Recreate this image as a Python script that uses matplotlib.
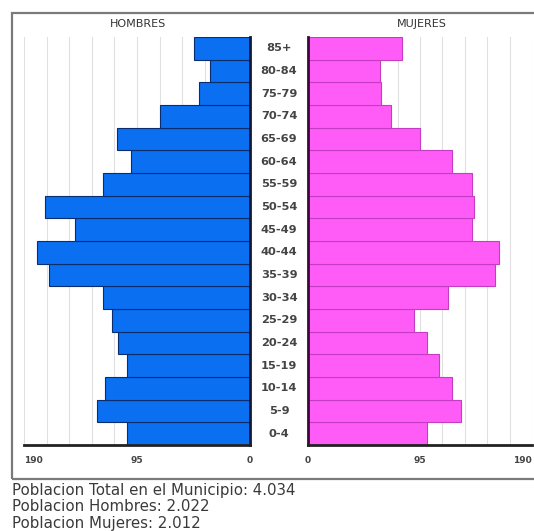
import matplotlib
matplotlib.use("Agg")
import matplotlib.pyplot as plt
from matplotlib.patches import Rectangle
import numpy as np

ages = ["0-4", "5-9", "10-14", "15-19", "20-24", "25-29", "30-34", "35-39", "40-44",
        "45-49", "50-54", "55-59", "60-64", "65-69", "70-74", "75-79", "80-84", "85+"]
hombres = [103, 129, 122, 103, 111, 116, 124, 169, 179, 147, 172, 124, 100, 112, 76, 43, 34, 47]
mujeres = [101, 130, 122, 111, 101, 90, 119, 159, 162, 139, 141, 139, 122, 95, 70, 62, 61, 80]
xticks = [0, 95, 190]
footer = ["Poblacion Total en el Municipio: 4.034",
          "Poblacion Hombres: 2.022",
          "Poblacion Mujeres: 2.012"]

W, H = 534, 531
fig = plt.figure(figsize=(W / 100, H / 100), dpi=100)
fig.patch.set_facecolor("white")

def fx(px):
    return px / W

def fy(py):
    return 1 - py / H

# outer frame
fig.patches.append(Rectangle((fx(12), fy(479)), 1.2, fy(13) - fy(479), transform=fig.transFigure,
                             fill=False, edgecolor="#7a7a7a", linewidth=1.6))

top, bot = 37, 445
axL = fig.add_axes([fx(24), fy(bot), fx(250) - fx(24), fy(top) - fy(bot)])
axR = fig.add_axes([fx(308), fy(bot), fx(532) - fx(308), fy(top) - fy(bot)])

y = np.arange(len(ages))
grid = np.arange(19, 191, 19)

for ax, vals, col, ec in [(axL, hombres, "#0b6ff2", "#0a2d6e"),
                          (axR, mujeres, "#ff5cf7", "#c43cc4")]:
    for g in grid:
        ax.axvline(g, color="#e0e0e0", linewidth=0.8, zorder=0)
    ax.barh(y, vals, height=1.0, color=col, edgecolor=ec, linewidth=0.8, zorder=2)
    ax.set_xlim(0, 190)
    ax.set_ylim(-0.5, len(ages) - 0.5)
    ax.set_yticks([])
    ax.set_xticks(xticks)
    ax.set_xticklabels([str(t) for t in xticks], fontsize=6.5, color="#444444", fontweight="bold")
    ax.tick_params(axis="x", length=0, pad=8)
    for s in ["top", "left", "right"]:
        ax.spines[s].set_visible(False)
    ax.spines["bottom"].set_linewidth(2)
    ax.spines["bottom"].set_color("#222222")
    ax.set_facecolor("none")

axL.invert_xaxis()
axL.spines["right"].set_visible(True)
axL.spines["right"].set_linewidth(2)
axL.spines["right"].set_color("#0a1a3a")
axR.spines["left"].set_visible(True)
axR.spines["left"].set_linewidth(2)
axR.spines["left"].set_color("#3a0a3a")

labsL = axL.get_xticklabels()
labsL[2].set_ha("left")
labsR = axR.get_xticklabels()
labsR[2].set_ha("right")

fig.text(fx(138), fy(24), "HOMBRES", ha="center", va="center", fontsize=8, color="#333333")
fig.text(fx(422), fy(24), "MUJERES", ha="center", va="center", fontsize=8, color="#333333")

for i, a in enumerate(ages):
    yy = bot - (i + 0.5) * (bot - top) / len(ages)
    fig.text(fx(279), fy(yy), a, ha="center", va="center", fontsize=8.2,
             fontweight="bold", color="#444444")

for i, t in enumerate(footer):
    fig.text(fx(12), fy(490.5 + i * 16.3), t, ha="left", va="center", fontsize=10.8, color="#3a3a3a")

fig.savefig("out.png", dpi=100)
